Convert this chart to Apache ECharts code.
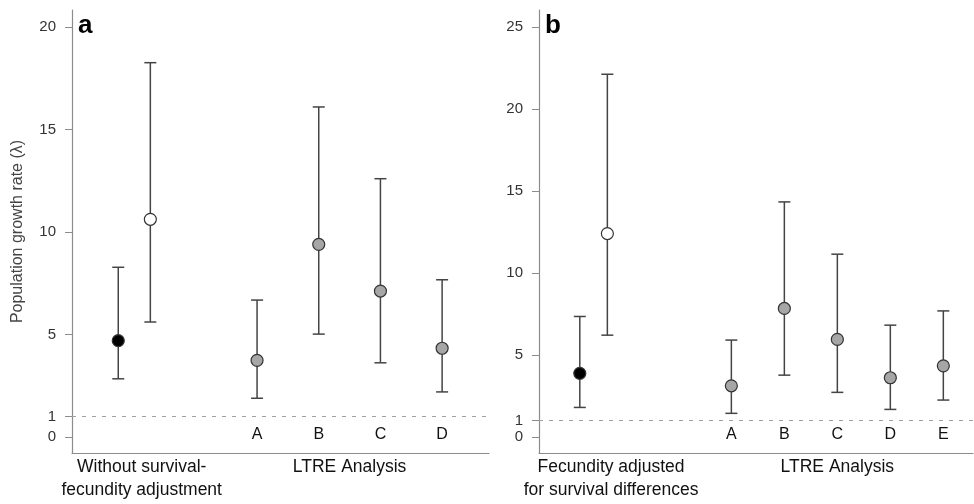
<!DOCTYPE html>
<html>
<head>
<meta charset="utf-8">
<script src="https://cdn.jsdelivr.net/npm/echarts@6/dist/echarts.min.js"></script>
<style>
  html, body { margin: 0; padding: 0; background: #fff; }
  #chart { width: 974px; height: 504px; }
</style>
</head>
<body>
<div id="chart"></div>
<script>
// panel a
const groupLabelsA = ['Without survival-\nfecundity adjustment', 'LTRE Analysis']
const lettersA = ['A', 'B', 'C', 'D']
const pairMeanA = [4.70, 10.62]
const pairLowA = [2.84, 5.61]
const pairHighA = [8.28, 18.26]
const ltreMeanA = [3.74, 9.40, 7.12, 4.33]
const ltreLowA = [1.89, 5.02, 3.62, 2.20]
const ltreHighA = [6.68, 16.10, 12.60, 7.67]
const yTicksA = [0, 1, 5, 10, 15, 20]

// panel b
const groupLabelsB = ['Fecundity adjusted\nfor survival differences', 'LTRE Analysis']
const lettersB = ['A', 'B', 'C', 'D', 'E']
const pairMeanB = [3.87, 12.40]
const pairLowB = [1.79, 6.20]
const pairHighB = [7.34, 22.12]
const ltreMeanB = [3.11, 7.83, 5.94, 3.60, 4.33]
const ltreLowB = [1.43, 3.76, 2.71, 1.67, 2.24]
const ltreHighB = [5.90, 14.33, 11.14, 6.81, 7.68]
const yTicksB = [0, 1, 5, 10, 15, 20, 25]

const pairColors = ['#000000', '#ffffff']
const ltreColor = '#a6a6a6'
const font = 'Liberation Sans, Arial, Helvetica, sans-serif'

// x layout: the two points of the first group sit close together,
// the LTRE letters follow on whole-number slots
function buildPanel (p) {
  const pts = []
  p.pairMean.forEach(function (m, i) {
    pts.push({ x: p.pairStart + i * 0.52, mean: m, low: p.pairLow[i], high: p.pairHigh[i], color: pairColors[i] })
  })
  p.ltreMean.forEach(function (m, i) {
    pts.push({ x: p.ltreStart + i, mean: m, low: p.ltreLow[i], high: p.ltreHigh[i], color: ltreColor })
  })
  const letterX = p.letters.map(function (l, i) { return p.ltreStart + i })
  const groupX = [p.groupCenter, p.ltreStart + (p.letters.length - 1) / 2]
  return { pts: pts, letterX: letterX, groupX: groupX }
}

const panelA = buildPanel({
  pairMean: pairMeanA, pairLow: pairLowA, pairHigh: pairHighA,
  ltreMean: ltreMeanA, ltreLow: ltreLowA, ltreHigh: ltreHighA,
  letters: lettersA, pairStart: 0.75, ltreStart: 3, groupCenter: 1.13
})
const panelB = buildPanel({
  pairMean: pairMeanB, pairLow: pairLowB, pairHigh: pairHighB,
  ltreMean: ltreMeanB, ltreLow: ltreLowB, ltreHigh: ltreHighB,
  letters: lettersB, pairStart: 0.77, ltreStart: 3.63, groupCenter: 1.36
})

function xAxes (gridIndex, max, panel, letters, groupLabels) {
  return [
    {
      type: 'value', gridIndex: gridIndex, min: 0, max: max,
      splitLine: { show: false },
      axisLine: { show: true, onZero: false, lineStyle: { color: '#8c8c8c', width: 1.2 } },
      axisTick: { show: false },
      axisLabel: {
        customValues: panel.groupX,
        formatter: function (v) {
          const i = panel.groupX.indexOf(v)
          return i >= 0 ? groupLabels[i] : ''
        },
        color: '#111', fontSize: 17.5, fontFamily: font, lineHeight: 23, margin: 3
      }
    },
    {
      type: 'value', gridIndex: gridIndex, min: 0, max: max, position: 'bottom',
      splitLine: { show: false },
      axisLine: { show: false, onZero: false },
      axisTick: { show: false },
      axisLabel: {
        inside: true,
        customValues: panel.letterX,
        formatter: function (v) {
          const i = panel.letterX.indexOf(v)
          return i >= 0 ? letters[i] : ''
        },
        color: '#111', fontSize: 16, fontFamily: font, margin: 10
      }
    }
  ]
}

function yAxis (gridIndex, min, max, ticks, name) {
  return {
    type: 'value', gridIndex: gridIndex, min: min, max: max,
    name: name, nameLocation: 'middle', nameGap: 46,
    nameTextStyle: { color: '#444', fontSize: 16, fontFamily: font },
    splitLine: { show: false },
    axisLine: { show: true, lineStyle: { color: '#8c8c8c', width: 1.2 } },
    axisTick: { show: true, length: 7, customValues: ticks, lineStyle: { color: '#8c8c8c' } },
    axisLabel: { customValues: ticks, color: '#333', fontSize: 15, fontFamily: font, margin: 16 }
  }
}

function errorBars (axisIndex, panel) {
  return {
    type: 'custom',
    xAxisIndex: axisIndex, yAxisIndex: axisIndex / 2,
    data: panel.pts.map(function (d) { return [d.x, d.low, d.high] }),
    encode: { x: 0, y: [1, 2] },
    z: 2,
    renderItem: function (params, api) {
      const lo = api.coord([api.value(0), api.value(1)])
      const hi = api.coord([api.value(0), api.value(2)])
      const half = 6
      const style = { stroke: '#444', lineWidth: 1.5 }
      return {
        type: 'group',
        children: [
          { type: 'line', shape: { x1: lo[0], y1: lo[1], x2: hi[0], y2: hi[1] }, style: style },
          { type: 'line', shape: { x1: hi[0] - half, y1: hi[1], x2: hi[0] + half, y2: hi[1] }, style: style },
          { type: 'line', shape: { x1: lo[0] - half, y1: lo[1], x2: lo[0] + half, y2: lo[1] }, style: style }
        ]
      }
    }
  }
}

function points (axisIndex, panel) {
  return {
    type: 'scatter',
    xAxisIndex: axisIndex, yAxisIndex: axisIndex / 2,
    symbolSize: 12,
    z: 3,
    data: panel.pts.map(function (d) {
      return { value: [d.x, d.mean], itemStyle: { color: d.color } }
    }),
    itemStyle: { borderColor: '#333', borderWidth: 1.2, opacity: 1 },
    markLine: {
      silent: true, symbol: 'none',
      label: { show: false },
      lineStyle: { color: '#a0a0a0', type: [4, 6], width: 1 },
      data: [{ yAxis: 1 }]
    }
  }
}

const chart = echarts.init(document.getElementById('chart'), null, { renderer: 'canvas' })
chart.setOption({
  backgroundColor: '#fff',
  animation: false,
  grid: [
    { left: 72, right: 485, top: 10, bottom: 51 },
    { left: 539, right: 1, top: 10, bottom: 51 }
  ],
  title: [
    { text: 'a', left: 73, top: 8, textStyle: { fontSize: 26, fontWeight: 'bold', color: '#000', fontFamily: font } },
    { text: 'b', left: 540, top: 8, textStyle: { fontSize: 26, fontWeight: 'bold', color: '#000', fontFamily: font } }
  ],
  xAxis: xAxes(0, 6.76, panelA, lettersA, groupLabelsA).concat(xAxes(1, 8.19, panelB, lettersB, groupLabelsB)),
  yAxis: [
    yAxis(0, -0.78, 20.83, yTicksA, 'Population growth rate (\u03bb)'),
    yAxis(1, -0.99, 26.04, yTicksB, '')
  ],
  series: [
    errorBars(0, panelA), points(0, panelA),
    errorBars(2, panelB), points(2, panelB)
  ]
})
</script>
</body>
</html>
